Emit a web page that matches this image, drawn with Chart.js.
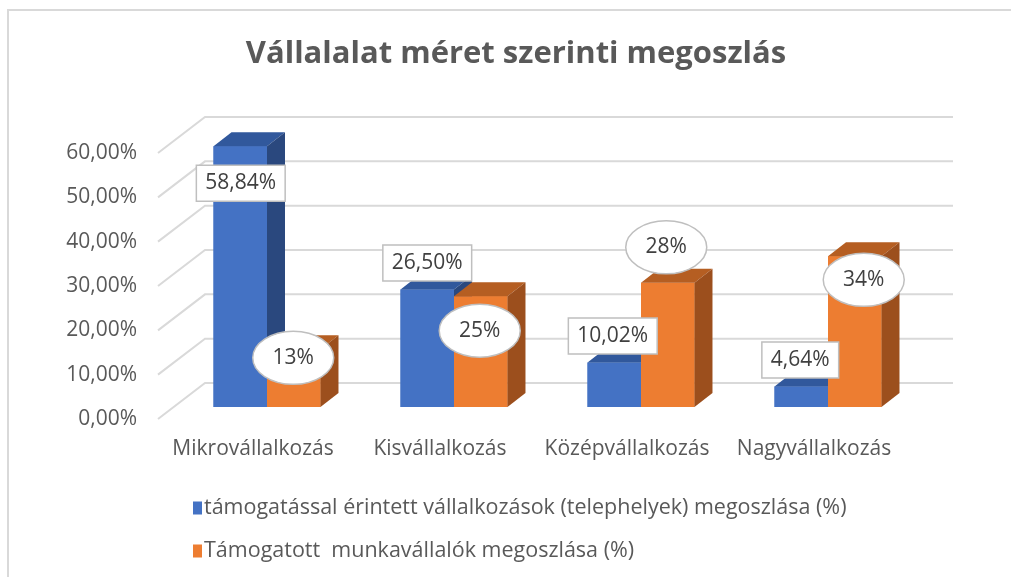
<!DOCTYPE html>
<html><head><meta charset="utf-8">
<script src="https://cdn.jsdelivr.net/npm/chart.js@4.4.1/dist/chart.umd.min.js"></script>
<style>html,body{margin:0;padding:0;background:#fff;}#wrap{width:1011px;height:577px;position:relative;}</style>
</head><body><div id="wrap"><canvas id="c" width="1011" height="577"></canvas></div>
<script>
const categories = ['Mikrovállalkozás', 'Kisvállalkozás', 'Középvállalkozás', 'Nagyvállalkozás'];
const seriesNames = ['támogatással érintett vállalkozások (telephelyek) megoszlása (%)', 'Támogatott  munkavállalók megoszlása (%)'];
const enterpriseShare = [58.84, 26.50, 10.02, 4.64];
const employeeShare = [13, 25, 28, 34];
const labelDecimals = [2, 0];
const yMin = 0, yMax = 60, yStep = 10;
const titleText = 'Vállalalat méret szerinti megoszlás';

const FONT = '"Open Sans"';
const TEXT = '#595959';
const GRID = '#d9d9d9';
const faceStyles = [
  { front: '#4472C4', top: '#31589C', side: '#2A487E', shape: 'rect' },
  { front: '#ED7D31', top: '#B55E22', side: '#9C4F1D', shape: 'ellipse' }
];
const BAR_DEPTH = { dx: 18, dy: -14 };
const WALL = { frontX: -15.5, frontY: 12, dx: 47, dy: -36 };
const labelNudge = [
  [[0.5, 37], [0, -26.5], [-1.5, -26.5], [-1, -26.5]],
  [[-0.5, 8.5], [-1, 34.5], [-1.5, -35.5], [9, 23.5]]
];

function fmt(v, d) { return v.toFixed(d).replace('.', ',') + '%'; }

const threeD = {
  id: 'threeD',
  beforeDraw(chart) {
    const ctx = chart.ctx;
    ctx.save();
    ctx.strokeStyle = GRID; ctx.lineWidth = 2;
    ctx.beginPath();
    ctx.moveTo(8, chart.height); ctx.lineTo(8, 10); ctx.lineTo(chart.width, 10);
    ctx.stroke();
    ctx.restore();
  },
  beforeDatasetsDraw(chart) {
    const ctx = chart.ctx, ys = chart.scales.y, a = chart.chartArea;
    ctx.save();
    ctx.strokeStyle = GRID; ctx.lineWidth = 2;
    ys.ticks.forEach(t => {
      const y = ys.getPixelForValue(t.value);
      const fx = a.left + WALL.frontX, fy = y + WALL.frontY;
      ctx.beginPath();
      ctx.moveTo(fx, fy);
      ctx.lineTo(fx + WALL.dx, fy + WALL.dy);
      ctx.lineTo(a.right + WALL.frontX + WALL.dx, fy + WALL.dy);
      ctx.stroke();
    });
    ctx.restore();
  },
  afterDatasetsDraw(chart) {
    const ctx = chart.ctx;
    ctx.save();
    chart.data.datasets.forEach((ds, i) => {
      const st = faceStyles[i];
      chart.getDatasetMeta(i).data.forEach(el => {
        const l = el.x - el.width / 2, r = el.x + el.width / 2, t = el.y, b = el.base;
        const dx = BAR_DEPTH.dx, dy = BAR_DEPTH.dy;
        ctx.fillStyle = st.front; ctx.fillRect(l, t, r - l, b - t);
        ctx.fillStyle = st.top;
        ctx.beginPath(); ctx.moveTo(l, t); ctx.lineTo(r, t); ctx.lineTo(r + dx, t + dy); ctx.lineTo(l + dx, t + dy); ctx.closePath(); ctx.fill();
        ctx.fillStyle = st.side;
        ctx.beginPath(); ctx.moveTo(r, t); ctx.lineTo(r + dx, t + dy); ctx.lineTo(r + dx, b + dy); ctx.lineTo(r, b); ctx.closePath(); ctx.fill();
      });
    });
    ctx.font = '21px ' + FONT;
    ctx.textAlign = 'center'; ctx.textBaseline = 'middle';
    chart.data.datasets.forEach((ds, i) => {
      const st = faceStyles[i];
      chart.getDatasetMeta(i).data.forEach((el, j) => {
        const txt = fmt(ds.data[j], labelDecimals[i]);
        const [nx, ny] = labelNudge[i][j];
        const cx = el.x + nx, cy = el.y + ny;
        ctx.fillStyle = '#ffffff'; ctx.strokeStyle = '#bfbfbf'; ctx.lineWidth = 1.5;
        ctx.beginPath();
        if (st.shape === 'rect') {
          const w = ctx.measureText(txt).width + 18, h = 36;
          ctx.rect(cx - w / 2, cy - h / 2, w, h);
        } else {
          ctx.ellipse(cx, cy, 40.5, 26.5, 0, 0, Math.PI * 2);
        }
        ctx.fill(); ctx.stroke();
        ctx.fillStyle = '#404040';
        ctx.fillText(txt, cx, cy);
      });
    });
    ctx.restore();
  },
  afterDraw(chart) {
    const ctx = chart.ctx, a = chart.chartArea;
    ctx.save();
    ctx.font = '21.5px ' + FONT; ctx.textAlign = 'left'; ctx.textBaseline = 'middle';
    chart.data.datasets.forEach((ds, i) => {
      const y = a.bottom + 101 + i * 43;
      const x = a.left + 19.5;
      ctx.fillStyle = ds.backgroundColor;
      ctx.fillRect(x, y - 6.5, 9, 13);
      ctx.fillStyle = TEXT;
      ctx.fillText(ds.label, x + 11, y);
    });
    ctx.restore();
  }
};

new Chart(document.getElementById('c'), {
  type: 'bar',
  data: {
    labels: categories,
    datasets: [
      { label: seriesNames[0], data: enterpriseShare, backgroundColor: faceStyles[0].front },
      { label: seriesNames[1], data: employeeShare, backgroundColor: faceStyles[1].front }
    ]
  },
  options: {
    responsive: false,
    animation: false,
    devicePixelRatio: 1,
    categoryPercentage: 0.572,
    barPercentage: 1,
    layout: { padding: { left: 21, right: 0, top: 0, bottom: 0 } },
    plugins: {
      legend: { display: false },
      tooltip: { enabled: false },
      title: {
        display: true, text: titleText, color: TEXT,
        font: { family: FONT, size: 31, weight: 'bold', lineHeight: 1.2 },
        padding: { top: 36, bottom: 67.8 }
      }
    },
    scales: {
      x: {
        grid: { display: false, drawTicks: false }, border: { display: false },
        ticks: { color: TEXT, font: { family: FONT, size: 21 }, labelOffset: -14, padding: 29 },
        afterFit(s) { s.height = 170; }
      },
      y: {
        min: yMin, max: yMax,
        grid: { display: false, drawTicks: false }, border: { display: false },
        ticks: { stepSize: yStep, color: TEXT, font: { family: FONT, size: 21 }, labelOffset: 12, padding: 36.5,
          callback: v => fmt(v, 2) },
        afterFit(s) { s.width = 152.5; }
      },
      yRight: {
        position: 'right', display: true,
        grid: { display: false, drawTicks: false }, border: { display: false },
        ticks: { display: false },
        afterFit(s) { s.width = 89.5; }
      }
    }
  },
  plugins: [threeD]
});
</script></body></html>
